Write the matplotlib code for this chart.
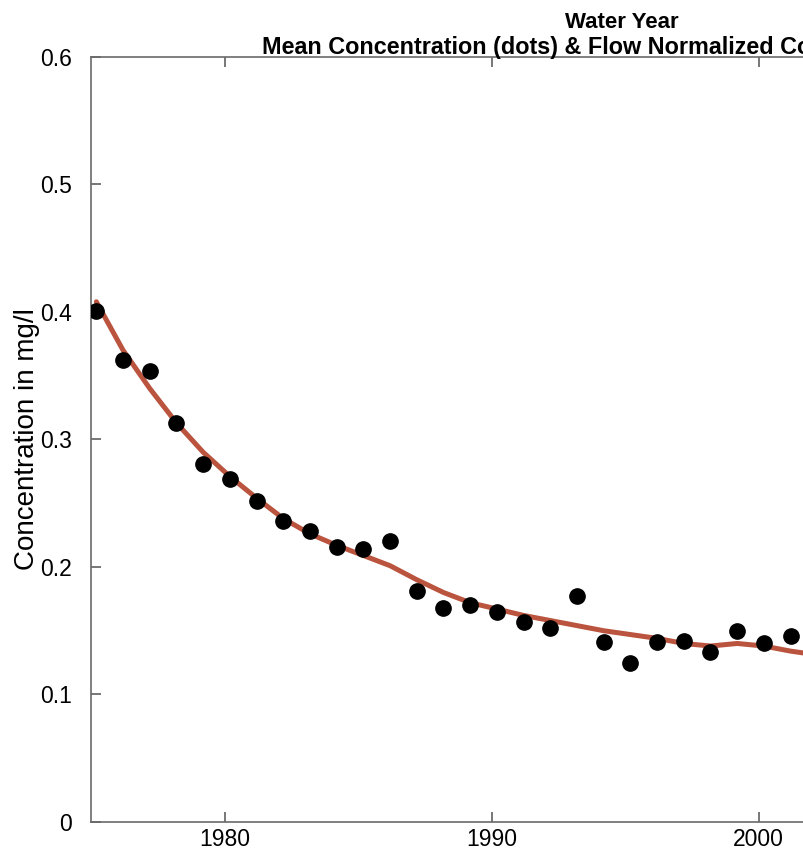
import matplotlib
matplotlib.use("Agg")
import matplotlib.pyplot as plt

plt.rcParams['font.family'] = ['Liberation Sans', 'DejaVu Sans']

# water years, plotted near the middle of the year
years = list(range(1975, 2003))
offset = 0.2

# annual mean concentration (dots), mg/l
mean_conc = [0.401, 0.362, 0.354, 0.313, 0.281, 0.269, 0.252, 0.236, 0.228,
             0.216, 0.214, 0.220, 0.181, 0.168, 0.170, 0.165, 0.157, 0.152,
             0.177, 0.141, 0.125, 0.141, 0.142, 0.133, 0.150, 0.140, 0.146,
             0.140]

# flow normalized concentration (line), mg/l
flow_norm = [0.408, 0.370, 0.340, 0.313, 0.290, 0.271, 0.254, 0.238, 0.226,
             0.217, 0.209, 0.201, 0.190, 0.180, 0.172, 0.167, 0.162, 0.158,
             0.154, 0.150, 0.147, 0.144, 0.140, 0.138, 0.140, 0.138, 0.134,
             0.131]

yticks = [0, 0.1, 0.2, 0.3, 0.4, 0.5, 0.6]
ytick_labels = ['0', '0.1', '0.2', '0.3', '0.4', '0.5', '0.6']
xticks = [1980, 1990, 2000]

x = [y + offset for y in years]

fig = plt.figure(figsize=(8.04, 8.59), dpi=100)
# the axes runs past the right edge of the picture (crop of a wider chart)
ax = fig.add_axes([0.1132, 0.0431, 1.3284, 0.8906])

ax.plot(x, flow_norm, color='#BA543E', lw=3.6, solid_capstyle='round',
        solid_joinstyle='round', zorder=2)
ax.plot(x, mean_conc, 'o', color='black', ms=11, zorder=3)

ax.set_xlim(1975, 2015)
ax.set_ylim(0, 0.6)
ax.set_xticks(xticks)
ax.set_yticks(yticks)
ax.set_yticklabels(ytick_labels)
ax.tick_params(direction='in', length=7, width=1.2, color='#606060',
               labelsize=16.5, top=True)
ax.tick_params(axis='y', pad=14)
ax.tick_params(axis='x', pad=4)

for s in ax.spines.values():
    s.set_color('#6a6a6a')
    s.set_linewidth(1.2)

ax.set_ylabel('Concentration in mg/l', fontsize=20, labelpad=0)

fig.text(622 / 804, 1 - 28 / 859, 'Water Year', ha='center', va='baseline',
         fontsize=16, fontweight='bold')
fig.text(262 / 804, 1 - 54 / 859,
         'Mean Concentration (dots) & Flow Normalized Concentration (line)',
         ha='left', va='baseline', fontsize=16.8, fontweight='bold')

fig.savefig('out.png', dpi=100)
